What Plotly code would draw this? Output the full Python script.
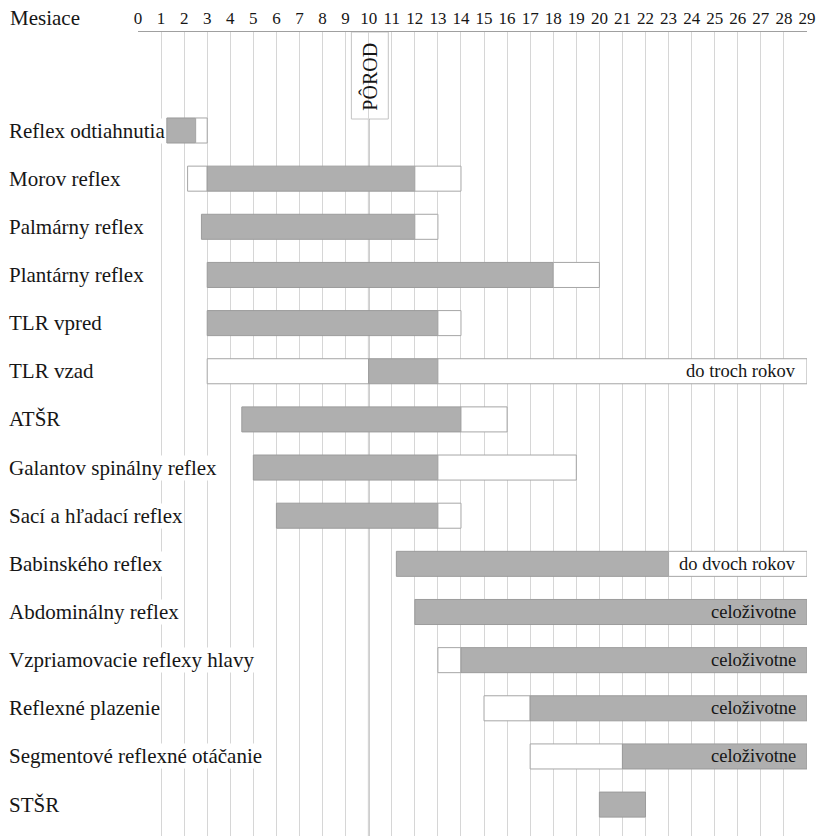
import plotly.graph_objects as go

# ---- data (months) ----
reflexes = [
    "Reflex odtiahnutia",
    "Morov reflex",
    "Palmárny reflex",
    "Plantárny reflex",
    "TLR vpred",
    "TLR vzad",
    "ATŠR",
    "Galantov spinálny reflex",
    "Sací a hľadací reflex",
    "Babinského reflex",
    "Abdominálny reflex",
    "Vzpriamovacie reflexy hlavy",
    "Reflexné plazenie",
    "Segmentové reflexné otáčanie",
    "STŠR",
]
pre_start = [None, 2.15, None, None, None, 3, None, None, None, None, None, 13, 15, 17, None]
gray_start = [1.25, 3, 2.75, 3, 3, 10, 4.5, 5, 6, 11.2, 12, 14, 17, 21, 20]
gray_end = [2.5, 12, 12, 18, 13, 13, 14, 13, 13, 23, 29, 29, 29, 29, 22]
post_end = [3, 14, 13, 20, 14, 29, 16, 19, 14, 29, None, None, None, None, None]
notes = ["", "", "", "", "", "do troch rokov", "", "", "", "do dvoch rokov",
         "celoživotne", "celoživotne", "celoživotne", "celoživotne", ""]
months = list(range(0, 30))
birth_month = 10
axis_title = "Mesiace"
birth_label = "PÔROD"

FONT = "Liberation Serif"
TXT = "#161616"
rows = list(range(len(reflexes)))


def seg(starts, ends):
    base, length = [], []
    for s, e in zip(starts, ends):
        if s is None or e is None:
            base.append(None)
            length.append(None)
        else:
            base.append(s)
            length.append(e - s)
    return base, length


pre_b, pre_l = seg(pre_start, gray_start)
gr_b, gr_l = seg(gray_start, gray_end)
post_b, post_l = seg(gray_end, post_end)

fig = go.Figure()
bar_w = 0.52
for b, l, fill, edge in [
    (pre_b, pre_l, "#ffffff", "#a6a6a6"),
    (gr_b, gr_l, "#afafaf", "#9c9c9c"),
    (post_b, post_l, "#ffffff", "#a6a6a6"),
]:
    fig.add_trace(go.Bar(
        y=rows, x=l, base=b, orientation="h", width=bar_w,
        marker=dict(color=fill, line=dict(color=edge, width=1)),
        hoverinfo="skip", showlegend=False,
    ))

W, H = 818, 836
L, R, T, B = 138.3, 11.3, 32, 0
plot_h = H - T - B
row0_px = 130.5
row_step = 48.15
y_top = (T - row0_px) / row_step
y_bot = (H - row0_px) / row_step


def px_to_paper_y(py):
    return (H - B - py) / plot_h


def px_to_paper_x(px):
    return (px - L) / (W - L - R)


annotations = []
for i, name in enumerate(reflexes):
    annotations.append(dict(
        text=name, xref="paper", x=px_to_paper_x(8), xanchor="left",
        yref="y", y=i, yanchor="middle", showarrow=False,
        font=dict(family=FONT, size=21, color=TXT),
        bgcolor="white", borderpad=0,
    ))
for i, note in enumerate(notes):
    if note:
        annotations.append(dict(
            text=note, xref="x", x=29, xanchor="right", xshift=-9,
            yref="y", y=i, yanchor="middle", showarrow=False,
            font=dict(family=FONT, size=18.5, color=TXT),
        ))
annotations.append(dict(
    text=axis_title, xref="paper", x=px_to_paper_x(8), xanchor="left",
    yref="paper", y=px_to_paper_y(18), yanchor="middle", showarrow=False,
    font=dict(family=FONT, size=21, color=TXT),
))
annotations.append(dict(
    text=birth_label, xref="x", x=birth_month, xanchor="center",
    yref="paper", y=px_to_paper_y(77), yanchor="middle", showarrow=False,
    textangle=-90, font=dict(family=FONT, size=20, color=TXT),
))

shapes = [
    dict(type="rect", xref="x", x0=birth_month - 0.75, x1=birth_month + 0.85,
         yref="paper", y0=px_to_paper_y(119), y1=1,
         fillcolor="white", line=dict(color="#c4c4c4", width=1), layer="between"),
    dict(type="line", xref="x", x0=birth_month, x1=birth_month,
         yref="paper", y0=0, y1=px_to_paper_y(119),
         line=dict(color="#8f8f8f", width=1.5), layer="between"),
]

fig.update_layout(
    width=W, height=H, autosize=False,
    margin=dict(l=L, r=R, t=T, b=B, pad=0),
    paper_bgcolor="white", plot_bgcolor="white",
    barmode="overlay", bargap=0,
    font=dict(family=FONT, color=TXT),
    annotations=annotations, shapes=shapes,
    xaxis=dict(
        range=[0, 29], side="top", tickmode="array", tickvals=months,
        ticktext=[str(m) for m in months], ticks="",
        tickfont=dict(family=FONT, size=17, color=TXT),
        showgrid=True, gridcolor="#d6d6d6", gridwidth=1,
        showline=True, linecolor="#a0a0a0", linewidth=1.5,
        zeroline=False, fixedrange=True,
    ),
    yaxis=dict(
        range=[y_bot, y_top], showticklabels=False, showgrid=False,
        zeroline=False, showline=False, fixedrange=True,
    ),
)

fig.write_html(
    "out.html",
    config={"displayModeBar": False, "staticPlot": True},
    post_script="document.body.style.margin='0';document.body.style.padding='0';",
)
